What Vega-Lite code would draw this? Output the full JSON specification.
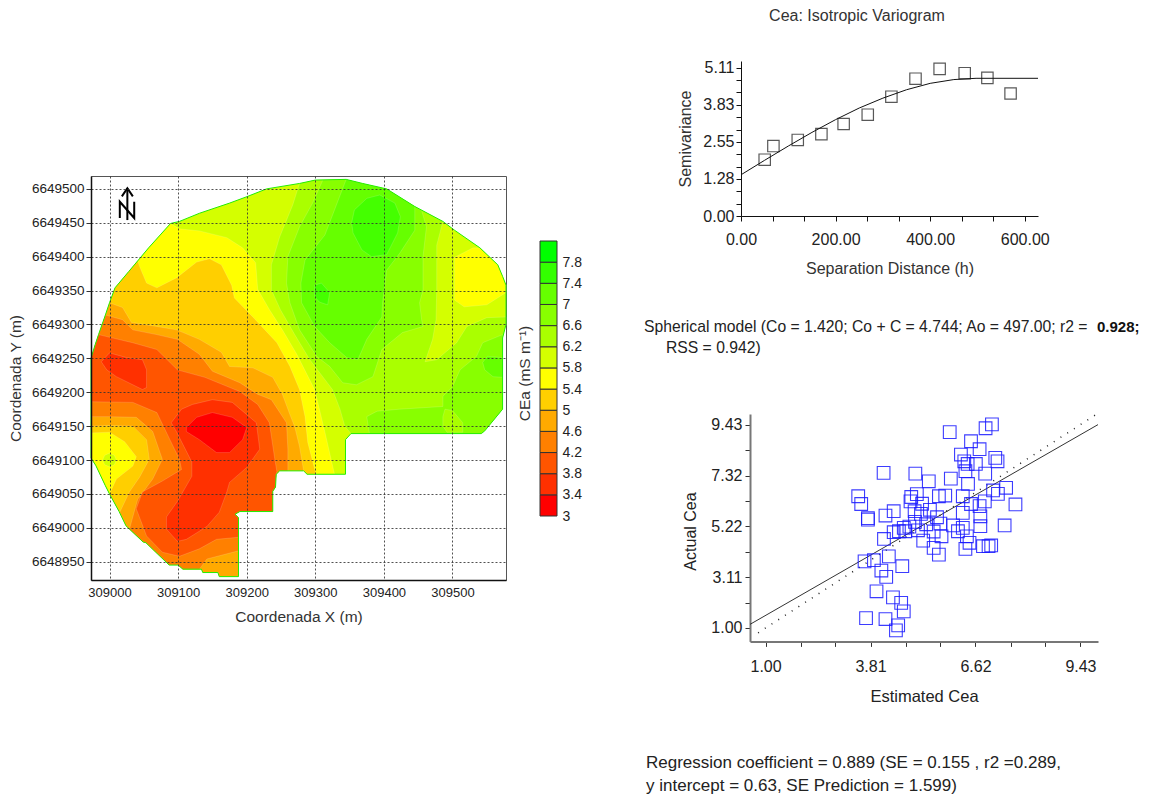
{"$schema":"https://vega.github.io/schema/vega-lite/v6.json","padding":0,"background":"white","spacing":0,
"config":{"font":"Liberation Sans","view":{"stroke":null},"concat":{"spacing":0},"axis":{"labelOverlap":false,"labelFlush":false,"labelFont":"Liberation Sans","titleFont":"Liberation Sans","labelColor":"#222","titleColor":"#333","titleFontWeight":"normal"}},
"datasets":{"poly":[
{"p":0,"i":0,"x":308973,"y":6649250},{"p":0,"i":1,"x":308979,"y":6649270},{"p":0,"i":2,"x":308984,"y":6649285},{"p":0,"i":3,"x":308994,"y":6649314},{"p":0,"i":4,"x":309000,"y":6649332},{"p":0,"i":5,"x":309008,"y":6649354},{"p":0,"i":6,"x":309028,"y":6649378},{"p":0,"i":7,"x":309057,"y":6649413},{"p":0,"i":8,"x":309089,"y":6649449},{"p":0,"i":9,"x":309102,"y":6649452},{"p":0,"i":10,"x":309131,"y":6649464},{"p":0,"i":11,"x":309175,"y":6649479},{"p":0,"i":12,"x":309199,"y":6649488},{"p":0,"i":13,"x":309229,"y":6649500},{"p":0,"i":14,"x":309277,"y":6649508},{"p":0,"i":15,"x":309300,"y":6649513},{"p":0,"i":16,"x":309345,"y":6649514},{"p":0,"i":17,"x":309369,"y":6649508},{"p":0,"i":18,"x":309404,"y":6649500},{"p":0,"i":19,"x":309445,"y":6649474},{"p":0,"i":20,"x":309486,"y":6649452},{"p":0,"i":21,"x":309503,"y":6649439},{"p":0,"i":22,"x":309540,"y":6649413},{"p":0,"i":23,"x":309566,"y":6649388},{"p":0,"i":24,"x":309573,"y":6649371},{"p":0,"i":25,"x":309578,"y":6649358},{"p":0,"i":26,"x":309578,"y":6649300},{"p":0,"i":27,"x":309573,"y":6649280},{"p":0,"i":28,"x":309573,"y":6649175},{"p":0,"i":29,"x":309547,"y":6649143},{"p":0,"i":30,"x":309542,"y":6649139},{"p":0,"i":31,"x":309352,"y":6649139},{"p":0,"i":32,"x":309344,"y":6649130},{"p":0,"i":33,"x":309344,"y":6649079},{"p":0,"i":34,"x":309288,"y":6649079},{"p":0,"i":35,"x":309283,"y":6649084},{"p":0,"i":36,"x":309248,"y":6649084},{"p":0,"i":37,"x":309243,"y":6649079},{"p":0,"i":38,"x":309242,"y":6649060},{"p":0,"i":39,"x":309238,"y":6649054},{"p":0,"i":40,"x":309238,"y":6649024},{"p":0,"i":41,"x":309190,"y":6649024},{"p":0,"i":42,"x":309183,"y":6649020},{"p":0,"i":43,"x":309188,"y":6649015},{"p":0,"i":44,"x":309188,"y":6648928},{"p":0,"i":45,"x":309160,"y":6648928},{"p":0,"i":46,"x":309158,"y":6648934},{"p":0,"i":47,"x":309136,"y":6648934},{"p":0,"i":48,"x":309134,"y":6648939},{"p":0,"i":49,"x":309107,"y":6648939},{"p":0,"i":50,"x":309100,"y":6648945},{"p":0,"i":51,"x":309087,"y":6648945},{"p":0,"i":52,"x":309053,"y":6648978},{"p":0,"i":53,"x":309049,"y":6648979},{"p":0,"i":54,"x":309024,"y":6649003},{"p":0,"i":55,"x":309014,"y":6649024},{"p":0,"i":56,"x":309000,"y":6649050},{"p":0,"i":57,"x":308994,"y":6649062},{"p":0,"i":58,"x":308980,"y":6649092},{"p":0,"i":59,"x":308973,"y":6649103},
{"p":1,"i":0,"x":309089,"y":6649449},{"p":1,"i":1,"x":309102,"y":6649441},{"p":1,"i":2,"x":309131,"y":6649438},{"p":1,"i":3,"x":309171,"y":6649428},{"p":1,"i":4,"x":309194,"y":6649413},{"p":1,"i":5,"x":309213,"y":6649391},{"p":1,"i":6,"x":309216,"y":6649352},{"p":1,"i":7,"x":309233,"y":6649322},{"p":1,"i":8,"x":309252,"y":6649292},{"p":1,"i":9,"x":309273,"y":6649256},{"p":1,"i":10,"x":309299,"y":6649204},{"p":1,"i":11,"x":309306,"y":6649175},{"p":1,"i":12,"x":309314,"y":6649141},{"p":1,"i":13,"x":309328,"y":6649079},{"p":1,"i":14,"x":309288,"y":6649079},{"p":1,"i":15,"x":309283,"y":6649084},{"p":1,"i":16,"x":309248,"y":6649084},{"p":1,"i":17,"x":309243,"y":6649079},{"p":1,"i":18,"x":309242,"y":6649060},{"p":1,"i":19,"x":309238,"y":6649054},{"p":1,"i":20,"x":309238,"y":6649024},{"p":1,"i":21,"x":309190,"y":6649024},{"p":1,"i":22,"x":309183,"y":6649020},{"p":1,"i":23,"x":309188,"y":6649015},{"p":1,"i":24,"x":309188,"y":6648928},{"p":1,"i":25,"x":309160,"y":6648928},{"p":1,"i":26,"x":309158,"y":6648934},{"p":1,"i":27,"x":309136,"y":6648934},{"p":1,"i":28,"x":309134,"y":6648939},{"p":1,"i":29,"x":309107,"y":6648939},{"p":1,"i":30,"x":309100,"y":6648945},{"p":1,"i":31,"x":309087,"y":6648945},{"p":1,"i":32,"x":309053,"y":6648978},{"p":1,"i":33,"x":309049,"y":6648979},{"p":1,"i":34,"x":309024,"y":6649003},{"p":1,"i":35,"x":309014,"y":6649024},{"p":1,"i":36,"x":309000,"y":6649050},{"p":1,"i":37,"x":308994,"y":6649062},{"p":1,"i":38,"x":308980,"y":6649092},{"p":1,"i":39,"x":308973,"y":6649103},{"p":1,"i":40,"x":308973,"y":6649250},{"p":1,"i":41,"x":308979,"y":6649270},{"p":1,"i":42,"x":308984,"y":6649285},{"p":1,"i":43,"x":308994,"y":6649314},{"p":1,"i":44,"x":309000,"y":6649332},{"p":1,"i":45,"x":309008,"y":6649354},{"p":1,"i":46,"x":309028,"y":6649378},{"p":1,"i":47,"x":309057,"y":6649413},
{"p":2,"i":0,"x":309503,"y":6649399},{"p":2,"i":1,"x":309530,"y":6649413},{"p":2,"i":2,"x":309540,"y":6649413},{"p":2,"i":3,"x":309566,"y":6649388},{"p":2,"i":4,"x":309573,"y":6649371},{"p":2,"i":5,"x":309578,"y":6649358},{"p":2,"i":6,"x":309578,"y":6649347},{"p":2,"i":7,"x":309550,"y":6649329},{"p":2,"i":8,"x":309517,"y":6649326},{"p":2,"i":9,"x":309503,"y":6649336},
{"p":3,"i":0,"x":309277,"y":6649508},{"p":3,"i":1,"x":309300,"y":6649513},{"p":3,"i":2,"x":309345,"y":6649514},{"p":3,"i":3,"x":309369,"y":6649508},{"p":3,"i":4,"x":309404,"y":6649500},{"p":3,"i":5,"x":309445,"y":6649474},{"p":3,"i":6,"x":309486,"y":6649452},{"p":3,"i":7,"x":309477,"y":6649417},{"p":3,"i":8,"x":309477,"y":6649351},{"p":3,"i":9,"x":309476,"y":6649307},{"p":3,"i":10,"x":309471,"y":6649278},{"p":3,"i":11,"x":309460,"y":6649245},{"p":3,"i":12,"x":309477,"y":6649248},{"p":3,"i":13,"x":309506,"y":6649273},{"p":3,"i":14,"x":309521,"y":6649297},{"p":3,"i":15,"x":309550,"y":6649310},{"p":3,"i":16,"x":309578,"y":6649311},{"p":3,"i":17,"x":309578,"y":6649300},{"p":3,"i":18,"x":309573,"y":6649280},{"p":3,"i":19,"x":309573,"y":6649175},{"p":3,"i":20,"x":309547,"y":6649143},{"p":3,"i":21,"x":309542,"y":6649139},{"p":3,"i":22,"x":309352,"y":6649139},{"p":3,"i":23,"x":309343,"y":6649150},{"p":3,"i":24,"x":309336,"y":6649175},{"p":3,"i":25,"x":309325,"y":6649204},{"p":3,"i":26,"x":309292,"y":6649248},{"p":3,"i":27,"x":309270,"y":6649285},{"p":3,"i":28,"x":309249,"y":6649322},{"p":3,"i":29,"x":309236,"y":6649351},{"p":3,"i":30,"x":309236,"y":6649388},{"p":3,"i":31,"x":309248,"y":6649429},{"p":3,"i":32,"x":309267,"y":6649476},
{"p":4,"i":0,"x":309311,"y":6649513},{"p":4,"i":1,"x":309345,"y":6649514},{"p":4,"i":2,"x":309369,"y":6649508},{"p":4,"i":3,"x":309404,"y":6649500},{"p":4,"i":4,"x":309445,"y":6649474},{"p":4,"i":5,"x":309455,"y":6649468},{"p":4,"i":6,"x":309462,"y":6649444},{"p":4,"i":7,"x":309457,"y":6649400},{"p":4,"i":8,"x":309457,"y":6649351},{"p":4,"i":9,"x":309452,"y":6649332},{"p":4,"i":10,"x":309455,"y":6649307},{"p":4,"i":11,"x":309457,"y":6649297},{"p":4,"i":12,"x":309427,"y":6649288},{"p":4,"i":13,"x":309397,"y":6649263},{"p":4,"i":14,"x":309384,"y":6649223},{"p":4,"i":15,"x":309360,"y":6649211},{"p":4,"i":16,"x":309340,"y":6649214},{"p":4,"i":17,"x":309321,"y":6649238},{"p":4,"i":18,"x":309302,"y":6649253},{"p":4,"i":19,"x":309277,"y":6649292},{"p":4,"i":20,"x":309263,"y":6649332},{"p":4,"i":21,"x":309258,"y":6649361},{"p":4,"i":22,"x":309260,"y":6649400},{"p":4,"i":23,"x":309277,"y":6649444},{"p":4,"i":24,"x":309296,"y":6649479},
{"p":5,"i":0,"x":309379,"y":6649139},{"p":5,"i":1,"x":309375,"y":6649164},{"p":5,"i":2,"x":309390,"y":6649172},{"p":5,"i":3,"x":309423,"y":6649175},{"p":5,"i":4,"x":309486,"y":6649179},{"p":5,"i":5,"x":309486,"y":6649194},{"p":5,"i":6,"x":309500,"y":6649208},{"p":5,"i":7,"x":309511,"y":6649233},{"p":5,"i":8,"x":309535,"y":6649253},{"p":5,"i":9,"x":309544,"y":6649273},{"p":5,"i":10,"x":309573,"y":6649285},{"p":5,"i":11,"x":309573,"y":6649175},{"p":5,"i":12,"x":309547,"y":6649143},{"p":5,"i":13,"x":309542,"y":6649139},
{"p":6,"i":0,"x":309345,"y":6649514},{"p":6,"i":1,"x":309369,"y":6649508},{"p":6,"i":2,"x":309404,"y":6649500},{"p":6,"i":3,"x":309445,"y":6649474},{"p":6,"i":4,"x":309445,"y":6649439},{"p":6,"i":5,"x":309423,"y":6649405},{"p":6,"i":6,"x":309404,"y":6649380},{"p":6,"i":7,"x":309398,"y":6649332},{"p":6,"i":8,"x":309397,"y":6649311},{"p":6,"i":9,"x":309375,"y":6649278},{"p":6,"i":10,"x":309362,"y":6649248},{"p":6,"i":11,"x":309346,"y":6649251},{"p":6,"i":12,"x":309321,"y":6649273},{"p":6,"i":13,"x":309299,"y":6649297},{"p":6,"i":14,"x":309280,"y":6649332},{"p":6,"i":15,"x":309279,"y":6649361},{"p":6,"i":16,"x":309285,"y":6649395},{"p":6,"i":17,"x":309314,"y":6649432},{"p":6,"i":18,"x":309328,"y":6649469},
{"p":7,"i":0,"x":309353,"y":6649450},{"p":7,"i":1,"x":309357,"y":6649469},{"p":7,"i":2,"x":309375,"y":6649486},{"p":7,"i":3,"x":309394,"y":6649491},{"p":7,"i":4,"x":309416,"y":6649479},{"p":7,"i":5,"x":309424,"y":6649459},{"p":7,"i":6,"x":309420,"y":6649435},{"p":7,"i":7,"x":309404,"y":6649403},{"p":7,"i":8,"x":309382,"y":6649400},{"p":7,"i":9,"x":309368,"y":6649410},{"p":7,"i":10,"x":309355,"y":6649435},
{"p":8,"i":0,"x":309299,"y":6649358},{"p":8,"i":1,"x":309309,"y":6649361},{"p":8,"i":2,"x":309321,"y":6649347},{"p":8,"i":3,"x":309318,"y":6649329},{"p":8,"i":4,"x":309306,"y":6649333},{"p":8,"i":5,"x":309299,"y":6649341},
{"p":9,"i":0,"x":309544,"y":6649244},{"p":9,"i":1,"x":309551,"y":6649253},{"p":9,"i":2,"x":309573,"y":6649251},{"p":9,"i":3,"x":309573,"y":6649222},{"p":9,"i":4,"x":309559,"y":6649223},{"p":9,"i":5,"x":309547,"y":6649233},
{"p":10,"i":0,"x":309486,"y":6649164},{"p":10,"i":1,"x":309489,"y":6649175},{"p":10,"i":2,"x":309500,"y":6649173},{"p":10,"i":3,"x":309515,"y":6649155},{"p":10,"i":4,"x":309515,"y":6649141},{"p":10,"i":5,"x":309492,"y":6649141},{"p":10,"i":6,"x":309486,"y":6649150},
{"p":11,"i":0,"x":309041,"y":6649394},{"p":11,"i":1,"x":309044,"y":6649385},{"p":11,"i":2,"x":309054,"y":6649361},{"p":11,"i":3,"x":309069,"y":6649354},{"p":11,"i":4,"x":309098,"y":6649369},{"p":11,"i":5,"x":309127,"y":6649392},{"p":11,"i":6,"x":309146,"y":6649397},{"p":11,"i":7,"x":309163,"y":6649388},{"p":11,"i":8,"x":309178,"y":6649358},{"p":11,"i":9,"x":309182,"y":6649339},{"p":11,"i":10,"x":309209,"y":6649311},{"p":11,"i":11,"x":309244,"y":6649273},{"p":11,"i":12,"x":309263,"y":6649238},{"p":11,"i":13,"x":309277,"y":6649204},{"p":11,"i":14,"x":309285,"y":6649164},{"p":11,"i":15,"x":309289,"y":6649126},{"p":11,"i":16,"x":309301,"y":6649079},{"p":11,"i":17,"x":309288,"y":6649079},{"p":11,"i":18,"x":309283,"y":6649084},{"p":11,"i":19,"x":309248,"y":6649084},{"p":11,"i":20,"x":309243,"y":6649079},{"p":11,"i":21,"x":309242,"y":6649060},{"p":11,"i":22,"x":309238,"y":6649054},{"p":11,"i":23,"x":309238,"y":6649024},{"p":11,"i":24,"x":309190,"y":6649024},{"p":11,"i":25,"x":309183,"y":6649020},{"p":11,"i":26,"x":309188,"y":6649015},{"p":11,"i":27,"x":309188,"y":6648928},{"p":11,"i":28,"x":309160,"y":6648928},{"p":11,"i":29,"x":309158,"y":6648934},{"p":11,"i":30,"x":309136,"y":6648934},{"p":11,"i":31,"x":309134,"y":6648939},{"p":11,"i":32,"x":309107,"y":6648939},{"p":11,"i":33,"x":309100,"y":6648945},{"p":11,"i":34,"x":309087,"y":6648945},{"p":11,"i":35,"x":309053,"y":6648978},{"p":11,"i":36,"x":309049,"y":6648979},{"p":11,"i":37,"x":309024,"y":6649003},{"p":11,"i":38,"x":309014,"y":6649024},{"p":11,"i":39,"x":309000,"y":6649050},{"p":11,"i":40,"x":308994,"y":6649062},{"p":11,"i":41,"x":308980,"y":6649092},{"p":11,"i":42,"x":308973,"y":6649103},{"p":11,"i":43,"x":308973,"y":6649250},{"p":11,"i":44,"x":308979,"y":6649270},{"p":11,"i":45,"x":308984,"y":6649285},{"p":11,"i":46,"x":308994,"y":6649314},{"p":11,"i":47,"x":309000,"y":6649332},{"p":11,"i":48,"x":309008,"y":6649354},{"p":11,"i":49,"x":309028,"y":6649378},
{"p":12,"i":0,"x":309000,"y":6649332},{"p":12,"i":1,"x":309019,"y":6649325},{"p":12,"i":2,"x":309032,"y":6649303},{"p":12,"i":3,"x":309069,"y":6649297},{"p":12,"i":4,"x":309098,"y":6649292},{"p":12,"i":5,"x":309131,"y":6649278},{"p":12,"i":6,"x":309163,"y":6649259},{"p":12,"i":7,"x":309175,"y":6649238},{"p":12,"i":8,"x":309209,"y":6649236},{"p":12,"i":9,"x":309238,"y":6649222},{"p":12,"i":10,"x":309252,"y":6649197},{"p":12,"i":11,"x":309263,"y":6649167},{"p":12,"i":12,"x":309270,"y":6649149},{"p":12,"i":13,"x":309277,"y":6649120},{"p":12,"i":14,"x":309283,"y":6649084},{"p":12,"i":15,"x":309248,"y":6649084},{"p":12,"i":16,"x":309243,"y":6649079},{"p":12,"i":17,"x":309242,"y":6649060},{"p":12,"i":18,"x":309238,"y":6649054},{"p":12,"i":19,"x":309238,"y":6649024},{"p":12,"i":20,"x":309190,"y":6649024},{"p":12,"i":21,"x":309183,"y":6649020},{"p":12,"i":22,"x":309188,"y":6649015},{"p":12,"i":23,"x":309188,"y":6648928},{"p":12,"i":24,"x":309160,"y":6648928},{"p":12,"i":25,"x":309158,"y":6648934},{"p":12,"i":26,"x":309136,"y":6648934},{"p":12,"i":27,"x":309134,"y":6648939},{"p":12,"i":28,"x":309107,"y":6648939},{"p":12,"i":29,"x":309100,"y":6648945},{"p":12,"i":30,"x":309087,"y":6648945},{"p":12,"i":31,"x":309053,"y":6648978},{"p":12,"i":32,"x":309049,"y":6648979},{"p":12,"i":33,"x":309024,"y":6649003},{"p":12,"i":34,"x":309014,"y":6649024},{"p":12,"i":35,"x":309000,"y":6649050},{"p":12,"i":36,"x":308994,"y":6649062},{"p":12,"i":37,"x":308980,"y":6649092},{"p":12,"i":38,"x":308973,"y":6649103},{"p":12,"i":39,"x":308973,"y":6649250},{"p":12,"i":40,"x":308979,"y":6649270},{"p":12,"i":41,"x":308984,"y":6649285},{"p":12,"i":42,"x":308994,"y":6649314},
{"p":13,"i":0,"x":308994,"y":6649314},{"p":13,"i":1,"x":309019,"y":6649307},{"p":13,"i":2,"x":309034,"y":6649292},{"p":13,"i":3,"x":309069,"y":6649285},{"p":13,"i":4,"x":309099,"y":6649278},{"p":13,"i":5,"x":309131,"y":6649256},{"p":13,"i":6,"x":309150,"y":6649231},{"p":13,"i":7,"x":309190,"y":6649214},{"p":13,"i":8,"x":309216,"y":6649197},{"p":13,"i":9,"x":309236,"y":6649189},{"p":13,"i":10,"x":309258,"y":6649155},{"p":13,"i":11,"x":309260,"y":6649116},{"p":13,"i":12,"x":309260,"y":6649084},{"p":13,"i":13,"x":309248,"y":6649084},{"p":13,"i":14,"x":309243,"y":6649079},{"p":13,"i":15,"x":309242,"y":6649060},{"p":13,"i":16,"x":309238,"y":6649054},{"p":13,"i":17,"x":309238,"y":6649024},{"p":13,"i":18,"x":309190,"y":6649024},{"p":13,"i":19,"x":309183,"y":6649020},{"p":13,"i":20,"x":309188,"y":6649015},{"p":13,"i":21,"x":309188,"y":6648966},{"p":13,"i":22,"x":309142,"y":6648954},{"p":13,"i":23,"x":309131,"y":6648939},{"p":13,"i":24,"x":309107,"y":6648939},{"p":13,"i":25,"x":309100,"y":6648945},{"p":13,"i":26,"x":309087,"y":6648945},{"p":13,"i":27,"x":309053,"y":6648978},{"p":13,"i":28,"x":309049,"y":6648979},{"p":13,"i":29,"x":309029,"y":6648998},{"p":13,"i":30,"x":309041,"y":6649042},{"p":13,"i":31,"x":309063,"y":6649072},{"p":13,"i":32,"x":309077,"y":6649101},{"p":13,"i":33,"x":309063,"y":6649142},{"p":13,"i":34,"x":309039,"y":6649163},{"p":13,"i":35,"x":309000,"y":6649164},{"p":13,"i":36,"x":308973,"y":6649164},{"p":13,"i":37,"x":308973,"y":6649250},{"p":13,"i":38,"x":308979,"y":6649270},{"p":13,"i":39,"x":308984,"y":6649285},
{"p":14,"i":0,"x":308973,"y":6649150},{"p":14,"i":1,"x":309000,"y":6649151},{"p":14,"i":2,"x":309034,"y":6649150},{"p":14,"i":3,"x":309054,"y":6649130},{"p":14,"i":4,"x":309058,"y":6649101},{"p":14,"i":5,"x":309044,"y":6649075},{"p":14,"i":6,"x":309029,"y":6649053},{"p":14,"i":7,"x":309015,"y":6649023},{"p":14,"i":8,"x":309000,"y":6649050},{"p":14,"i":9,"x":308994,"y":6649062},{"p":14,"i":10,"x":308980,"y":6649092},{"p":14,"i":11,"x":308973,"y":6649103},
{"p":15,"i":0,"x":308973,"y":6649140},{"p":15,"i":1,"x":309000,"y":6649141},{"p":15,"i":2,"x":309022,"y":6649127},{"p":15,"i":3,"x":309039,"y":6649105},{"p":15,"i":4,"x":309034,"y":6649091},{"p":15,"i":5,"x":309010,"y":6649072},{"p":15,"i":6,"x":309000,"y":6649050},{"p":15,"i":7,"x":308994,"y":6649062},{"p":15,"i":8,"x":308980,"y":6649092},{"p":15,"i":9,"x":308973,"y":6649103},
{"p":16,"i":0,"x":309000,"y":6649110},{"p":16,"i":1,"x":309007,"y":6649107},{"p":16,"i":2,"x":309010,"y":6649100},{"p":16,"i":3,"x":309007,"y":6649093},{"p":16,"i":4,"x":309000,"y":6649090},{"p":16,"i":5,"x":308993,"y":6649093},{"p":16,"i":6,"x":308990,"y":6649100},{"p":16,"i":7,"x":308993,"y":6649107},
{"p":17,"i":0,"x":308984,"y":6649285},{"p":17,"i":1,"x":309034,"y":6649273},{"p":17,"i":2,"x":309069,"y":6649263},{"p":17,"i":3,"x":309099,"y":6649233},{"p":17,"i":4,"x":309139,"y":6649222},{"p":17,"i":5,"x":309190,"y":6649201},{"p":17,"i":6,"x":309216,"y":6649182},{"p":17,"i":7,"x":309233,"y":6649155},{"p":17,"i":8,"x":309241,"y":6649101},{"p":17,"i":9,"x":309244,"y":6649083},{"p":17,"i":10,"x":309243,"y":6649079},{"p":17,"i":11,"x":309242,"y":6649060},{"p":17,"i":12,"x":309238,"y":6649054},{"p":17,"i":13,"x":309238,"y":6649024},{"p":17,"i":14,"x":309190,"y":6649024},{"p":17,"i":15,"x":309183,"y":6649020},{"p":17,"i":16,"x":309188,"y":6649015},{"p":17,"i":17,"x":309188,"y":6648986},{"p":17,"i":18,"x":309156,"y":6648983},{"p":17,"i":19,"x":309131,"y":6648969},{"p":17,"i":20,"x":309102,"y":6648958},{"p":17,"i":21,"x":309077,"y":6648964},{"p":17,"i":22,"x":309054,"y":6648988},{"p":17,"i":23,"x":309039,"y":6649028},{"p":17,"i":24,"x":309048,"y":6649053},{"p":17,"i":25,"x":309077,"y":6649069},{"p":17,"i":26,"x":309105,"y":6649086},{"p":17,"i":27,"x":309102,"y":6649101},{"p":17,"i":28,"x":309088,"y":6649130},{"p":17,"i":29,"x":309069,"y":6649170},{"p":17,"i":30,"x":309034,"y":6649185},{"p":17,"i":31,"x":308973,"y":6649186},{"p":17,"i":32,"x":308973,"y":6649250},{"p":17,"i":33,"x":308979,"y":6649270},
{"p":18,"i":0,"x":308988,"y":6649245},{"p":18,"i":1,"x":309000,"y":6649258},{"p":18,"i":2,"x":309025,"y":6649251},{"p":18,"i":3,"x":309048,"y":6649248},{"p":18,"i":4,"x":309054,"y":6649233},{"p":18,"i":5,"x":309054,"y":6649207},{"p":18,"i":6,"x":309048,"y":6649204},{"p":18,"i":7,"x":309010,"y":6649223},{"p":18,"i":8,"x":308996,"y":6649233},
{"p":19,"i":0,"x":309090,"y":6649155},{"p":19,"i":1,"x":309105,"y":6649175},{"p":19,"i":2,"x":309121,"y":6649182},{"p":19,"i":3,"x":309150,"y":6649189},{"p":19,"i":4,"x":309179,"y":6649185},{"p":19,"i":5,"x":309214,"y":6649155},{"p":19,"i":6,"x":309219,"y":6649116},{"p":19,"i":7,"x":309200,"y":6649089},{"p":19,"i":8,"x":309175,"y":6649067},{"p":19,"i":9,"x":309171,"y":6649053},{"p":19,"i":10,"x":309160,"y":6649023},{"p":19,"i":11,"x":309142,"y":6649002},{"p":19,"i":12,"x":309112,"y":6648983},{"p":19,"i":13,"x":309099,"y":6648980},{"p":19,"i":14,"x":309083,"y":6648998},{"p":19,"i":15,"x":309083,"y":6649016},{"p":19,"i":16,"x":309099,"y":6649039},{"p":19,"i":17,"x":309120,"y":6649076},{"p":19,"i":18,"x":309120,"y":6649097},{"p":19,"i":19,"x":309098,"y":6649141},
{"p":20,"i":0,"x":309112,"y":6649148},{"p":20,"i":1,"x":309127,"y":6649163},{"p":20,"i":2,"x":309150,"y":6649170},{"p":20,"i":3,"x":309179,"y":6649163},{"p":20,"i":4,"x":309200,"y":6649148},{"p":20,"i":5,"x":309194,"y":6649130},{"p":20,"i":6,"x":309175,"y":6649111},{"p":20,"i":7,"x":309156,"y":6649111},{"p":20,"i":8,"x":309131,"y":6649130},{"p":20,"i":9,"x":309112,"y":6649142}
],
"arrow":[
{"s":"a","i":0,"x":309026,"y":6649501},{"s":"a","i":1,"x":309026,"y":6649454},
{"s":"h","i":0,"x":309018,"y":6649489},{"s":"h","i":1,"x":309026,"y":6649501},{"s":"h","i":2,"x":309034,"y":6649489},
{"s":"n","i":0,"x":309015,"y":6649457},{"s":"n","i":1,"x":309015,"y":6649481},{"s":"n","i":2,"x":309036,"y":6649457},{"s":"n","i":3,"x":309036,"y":6649481}
],
"bands":[
{"lo":3,"hi":3.4,"b":"a"},{"lo":3.4,"hi":3.8,"b":"b"},{"lo":3.8,"hi":4.2,"b":"c"},{"lo":4.2,"hi":4.6,"b":"d"},{"lo":4.6,"hi":5,"b":"e"},{"lo":5,"hi":5.4,"b":"f"},{"lo":5.4,"hi":5.8,"b":"g"},{"lo":5.8,"hi":6.2,"b":"h"},{"lo":6.2,"hi":6.6,"b":"i"},{"lo":6.6,"hi":7,"b":"j"},{"lo":7,"hi":7.4,"b":"k"},{"lo":7.4,"hi":7.8,"b":"l"},{"lo":7.8,"hi":8.2,"b":"m"}
],
"vario":[{"h":50.1,"g":1.94},{"h":68.5,"g":2.41},{"h":120,"g":2.62},{"h":170,"g":2.82},{"h":217,"g":3.17},{"h":268,"g":3.49},{"h":318,"g":4.11},{"h":369,"g":4.73},{"h":420,"g":5.07},{"h":473,"g":4.92},{"h":521,"g":4.76},{"h":570,"g":4.22}],
"model":[{"h":0,"g":1.42},{"h":50,"g":1.92},{"h":100,"g":2.41},{"h":150,"g":2.88},{"h":200,"g":3.32},{"h":250,"g":3.72},{"h":300,"g":4.06},{"h":350,"g":4.35},{"h":400,"g":4.57},{"h":450,"g":4.7},{"h":497,"g":4.744},{"h":628,"g":4.744}],
"scatter":[{"e":7.06,"a":9.44},{"e":6.89,"a":9.28},{"e":5.93,"a":9.12},{"e":6.5,"a":8.74},{"e":6.73,"a":8.41},{"e":6.23,"a":8.19},{"e":6.32,"a":7.91},{"e":7.15,"a":8.05},{"e":7.21,"a":7.91},{"e":6.63,"a":7.8},{"e":6.41,"a":7.8},{"e":6.35,"a":7.5},{"e":6.88,"a":7.4},{"e":5.01,"a":7.4},{"e":5.37,"a":7.08},{"e":5.96,"a":7.19},{"e":6.42,"a":6.97},{"e":7.09,"a":6.7},{"e":7.44,"a":6.81},{"e":7.22,"a":6.56},{"e":4.9,"a":6.43},{"e":4.88,"a":6.25},{"e":5.64,"a":6.46},{"e":5.81,"a":6.49},{"e":6.28,"a":6.46},{"e":6.87,"a":6.25},{"e":6.5,"a":6.14},{"e":6.73,"a":6.05},{"e":7.69,"a":6.12},{"e":4.99,"a":5.84},{"e":5.16,"a":5.73},{"e":6.28,"a":5.77},{"e":6.75,"a":5.63},{"e":5.59,"a":5.59},{"e":6.75,"a":5.22},{"e":7.4,"a":5.25},{"e":5.68,"a":5.33},{"e":6.02,"a":5.25},{"e":6.28,"a":5.15},{"e":5.08,"a":5.05},{"e":4.74,"a":5.01},{"e":4.57,"a":5.01},{"e":5.71,"a":4.8},{"e":6.15,"a":5.01},{"e":5.22,"a":4.62},{"e":6.39,"a":4.8},{"e":6.46,"a":4.53},{"e":6.82,"a":4.39},{"e":6.97,"a":4.39},{"e":7.04,"a":4.42},{"e":6.35,"a":4.28},{"e":5.5,"a":4.32},{"e":5.64,"a":4.04},{"e":4.16,"a":7.43},{"e":3.48,"a":6.46},{"e":3.56,"a":6.14},{"e":3.74,"a":5.49},{"e":3.74,"a":5.55},{"e":4.21,"a":5.66},{"e":4.43,"a":5.84},{"e":4.17,"a":4.69},{"e":4.43,"a":4.97},{"e":4.3,"a":3.97},{"e":3.65,"a":3.76},{"e":3.9,"a":3.81},{"e":4.66,"a":3.56},{"e":4.1,"a":3.38},{"e":4.23,"a":3.12},{"e":3.97,"a":2.52},{"e":4.41,"a":2.27},{"e":4.63,"a":2.04},{"e":4.7,"a":1.69},{"e":3.69,"a":1.41},{"e":4.21,"a":1.37},{"e":4.55,"a":1.11},{"e":4.49,"a":0.9},{"e":5.05,"a":6.55},{"e":5.19,"a":6.15},{"e":5.4,"a":5.9},{"e":5.3,"a":5.3},{"e":5.5,"a":5},{"e":5,"a":5.4},{"e":4.85,"a":5.2},{"e":4.7,"a":5.15}],
"reg":[{"e":0.583,"a":1.15},{"e":9.9,"a":9.43}],
"ident":[{"e":0.8,"a":0.8},{"e":9.87,"a":9.87}]
},
"hconcat":[
{"width":7,"height":1,"data":{"values":[{"a":1}]},"mark":{"type":"text","text":""}},
{"vconcat":[
 {"width":10,"height":169,"data":{"values":[{"a":1}]},"mark":{"type":"text","text":""}},
 {"width":415,"height":404,"view":{"stroke":"#555"},
  "encoding":{
    "x":{"field":"x","type":"quantitative","scale":{"domain":[308973,309578],"nice":false,"zero":false},
      "axis":{"values":[309000,309100,309200,309300,309400,309500],"format":"d","labelFontSize":13,"titleFontSize":15.5,"title":"Coordenada X (m)","grid":true,"gridColor":"#333","gridDash":[2,2],"gridWidth":1,"gridOpacity":0.85,"tickSize":0,"labelPadding":6,"titlePadding":10,"domainColor":"#111","domainWidth":1.5,"zindex":1,"labelOverlap":false}},
    "y":{"field":"y","type":"quantitative","scale":{"domain":[6648923,6649519],"nice":false,"zero":false},
      "axis":{"values":[6648950,6649000,6649050,6649100,6649150,6649200,6649250,6649300,6649350,6649400,6649450,6649500],"format":"d","labelFontSize":13.5,"titleFontSize":15.5,"title":"Coordenada Y (m)","grid":true,"gridColor":"#333","gridDash":[2,2],"gridWidth":1,"gridOpacity":0.85,"tickSize":5,"tickColor":"#333","labelPadding":2,"titlePadding":8,"domainColor":"#111","domainWidth":1.5,"zindex":1,"labelOverlap":false}}},
  "layer":[
  {"data":{"name":"poly"},"mark":{"type":"line","interpolate":"linear-closed","stroke":"#fff","strokeOpacity":0.25,"strokeWidth":0.6},"encoding":{
    "order":{"field":"i","type":"quantitative"},
    "fill":{"field":"p","type":"nominal","legend":null,"scale":{"domain":[0,1,2,3,4,5,6,7,8,9,10,11,12,13,14,15,16,17,18,19,20],"range":["#D4FF00","#FFFF00","#FFFF00","#AAFF00","#88FF00","#88FF00","#66FF00","#44FF00","#44FF00","#66FF00","#AAFF00","#FFCF00","#FFAA00","#FF8000","#FFCF00","#FFFF00","#D4FF00","#FF5500","#FF3000","#FF3000","#FF0000"]}}}},
  {"data":{"name":"poly"},"transform":[{"filter":"datum.p===0"}],"mark":{"type":"line","interpolate":"linear-closed","stroke":"#22EE00","strokeWidth":1},"encoding":{"order":{"field":"i","type":"quantitative"}}},
  {"data":{"name":"arrow"},"mark":{"type":"line","color":"#000","strokeWidth":2},"encoding":{"detail":{"field":"s"},"order":{"field":"i","type":"quantitative"}}}
  ]}
]},
{"width":8,"height":1,"data":{"values":[{"a":1}]},"mark":{"type":"text","text":""}},
{"vconcat":[
 {"width":10,"height":234,"data":{"values":[{"a":1}]},"mark":{"type":"text","text":""}},
 {"width":17,"height":275,"data":{"name":"bands"},"mark":{"type":"rect","stroke":"#333","strokeWidth":1},"encoding":{
   "y":{"field":"lo","type":"quantitative","scale":{"domain":[3,8.2],"nice":false,"zero":false},
     "axis":{"orient":"right","values":[3,3.4,3.8,4.2,4.6,5,5.4,5.8,6.2,6.6,7,7.4,7.8],"labelExpr":"''+datum.value","labelFontSize":14,"labelColor":"#222","tickSize":0,"labelPadding":5,"domain":false,"grid":false,"title":"CEa (mS m⁻¹)","titleFontSize":15.5,"titleX":-33,"titleY":132,"titleAngle":270,"titleAlign":"center","titleBaseline":"middle","labelOverlap":false}},
   "y2":{"field":"hi"},
   "color":{"field":"b","type":"nominal","legend":null,"scale":{"domain":["a","b","c","d","e","f","g","h","i","j","k","l","m"],"range":["#FF0000","#FF3000","#FF5500","#FF8000","#FFAA00","#FFCF00","#FFFF00","#D4FF00","#AAFF00","#88FF00","#66FF00","#33FF00","#00FF00"]}}}}
]},
{"width":62,"height":1,"data":{"values":[{"a":1}]},"mark":{"type":"text","text":""}},
{"vconcat":[
 {"width":500,"height":49,"data":{"values":[{"t":"Cea: Isotropic Variogram","x":213,"y":10}]},"mark":{"type":"text","align":"center","baseline":"middle","fontSize":16,"color":"#333"},"encoding":{"text":{"field":"t"},"x":{"field":"x","type":"quantitative","axis":null,"scale":{"domain":[0,500],"range":[0,500]}},"y":{"field":"y","type":"quantitative","axis":null,"scale":{"domain":[0,49],"range":[0,49]}}}},
 {"hconcat":[
  {"width":32.5,"height":1,"data":{"values":[{"a":1}]},"mark":{"type":"text","text":""}},
  {"width":297,"height":155,
   "encoding":{
     "x":{"field":"h","type":"quantitative","scale":{"domain":[0,628],"nice":false},"axis":{"title":"Separation Distance (h)","titleFontSize":16,"labelFontSize":16,"values":[0,66.67,133.33,200,266.67,333.33,400,466.67,533.33,600],"labelExpr":"indexof([0,200,400,600],datum.value)>=0?format(datum.value,'.2f'):''","labelFlush":false,"grid":false,"domainColor":"#111","tickColor":"#111","tickSize":5,"labelPadding":10,"titlePadding":13,"labelOverlap":false}},
     "y":{"field":"g","type":"quantitative","scale":{"domain":[0,5.34],"nice":false},"axis":{"title":"Semivariance","titleFontSize":16,"labelFontSize":16,"values":[0,0.426,0.852,1.28,1.7,2.13,2.55,2.98,3.41,3.83,4.26,4.69,5.11],"labelExpr":"indexof([0,1.28,2.55,3.83,5.11],datum.value)>=0?format(datum.value,'.2f'):''","labelFlush":false,"grid":false,"domainColor":"#111","tickColor":"#111","tickSize":5,"labelPadding":2,"titlePadding":9,"labelOverlap":false}}},
   "layer":[
   {"data":{"name":"model"},"mark":{"type":"line","color":"#111","strokeWidth":1}},
   {"data":{"name":"vario"},"mark":{"type":"point","shape":"square","size":130,"fill":null,"stroke":"#111","strokeWidth":1.2}}
  ]}
 ]},
 {"width":500,"height":132,"data":{"values":[{"t":"Spherical model (Co = 1.420; Co + C = 4.744; Ao = 497.00; r2 =","x":0,"y":51,"w":"n"},{"t":"0.928;","x":453,"y":51,"w":"b"},{"t":"RSS = 0.942)","x":22,"y":72,"w":"n"}]},
  "encoding":{"text":{"field":"t"},"x":{"field":"x","type":"quantitative","axis":null,"scale":{"domain":[0,500],"range":[0,500]}},"y":{"field":"y","type":"quantitative","axis":null,"scale":{"domain":[0,132],"range":[0,132]}}},
  "layer":[
   {"transform":[{"filter":"datum.w==='n'"}],"mark":{"type":"text","align":"left","baseline":"middle","fontSize":15.7,"color":"#222"}},
   {"transform":[{"filter":"datum.w==='b'"}],"mark":{"type":"text","align":"left","baseline":"middle","fontSize":15,"fontWeight":"bold","color":"#111"}}
  ]},
 {"hconcat":[
  {"width":38,"height":1,"data":{"values":[{"a":1}]},"mark":{"type":"text","text":""}},
  {"width":348,"height":227.4,
   "encoding":{
     "x":{"field":"e","type":"quantitative","scale":{"domain":[0.583,9.9],"nice":false,"zero":false},"axis":{"title":"Estimated Cea","titleFontSize":16.5,"titleColor":"#222","labelFontSize":16,"labelColor":"#222","values":[1,1.94,2.87,3.81,4.75,5.68,6.62,7.56,8.49,9.43],"labelExpr":"indexof([1,3.81,6.62,9.43],datum.value)>=0?format(datum.value,'.2f'):''","labelFlush":false,"grid":false,"domainColor":"#777","domainWidth":2,"tickColor":"#333","tickSize":5,"labelPadding":12,"titlePadding":14,"labelOverlap":false}},
     "y":{"field":"a","type":"quantitative","scale":{"domain":[0.444,9.87],"nice":false,"zero":false},"axis":{"title":"Actual Cea","titleFontSize":16,"titleColor":"#222","titleY":117,"labelFontSize":16,"labelColor":"#222","values":[1,2.05,3.11,4.16,5.22,6.27,7.32,8.38,9.43],"labelExpr":"indexof([1,3.11,5.22,7.32,9.43],datum.value)>=0?format(datum.value,'.2f'):''","labelFlush":false,"grid":false,"domainColor":"#777","domainWidth":2,"tickColor":"#333","tickSize":5,"labelPadding":3,"titlePadding":12,"labelOverlap":false}}},
   "layer":[
   {"data":{"name":"reg"},"mark":{"type":"line","color":"#333","strokeWidth":1}},
   {"data":{"name":"ident"},"mark":{"type":"line","color":"#222","strokeWidth":1.5,"strokeDash":[1,7]}},
   {"data":{"name":"scatter"},"mark":{"type":"point","shape":"square","size":161,"fill":null,"stroke":"#1A1AFF","strokeWidth":1.1,"opacity":0.85}}
  ]}
 ]},
 {"width":500,"height":90,"data":{"values":[{"t":"Regression coefficient = 0.889 (SE = 0.155 , r2 =0.289,","x":2,"y":58},{"t":"y intercept = 0.63, SE Prediction = 1.599)","x":2,"y":81}]},"mark":{"type":"text","align":"left","baseline":"middle","fontSize":17,"color":"#222"},"encoding":{"text":{"field":"t"},"x":{"field":"x","type":"quantitative","axis":null,"scale":{"domain":[0,500],"range":[0,500]}},"y":{"field":"y","type":"quantitative","axis":null,"scale":{"domain":[0,90],"range":[0,90]}}}}
]}
]}
